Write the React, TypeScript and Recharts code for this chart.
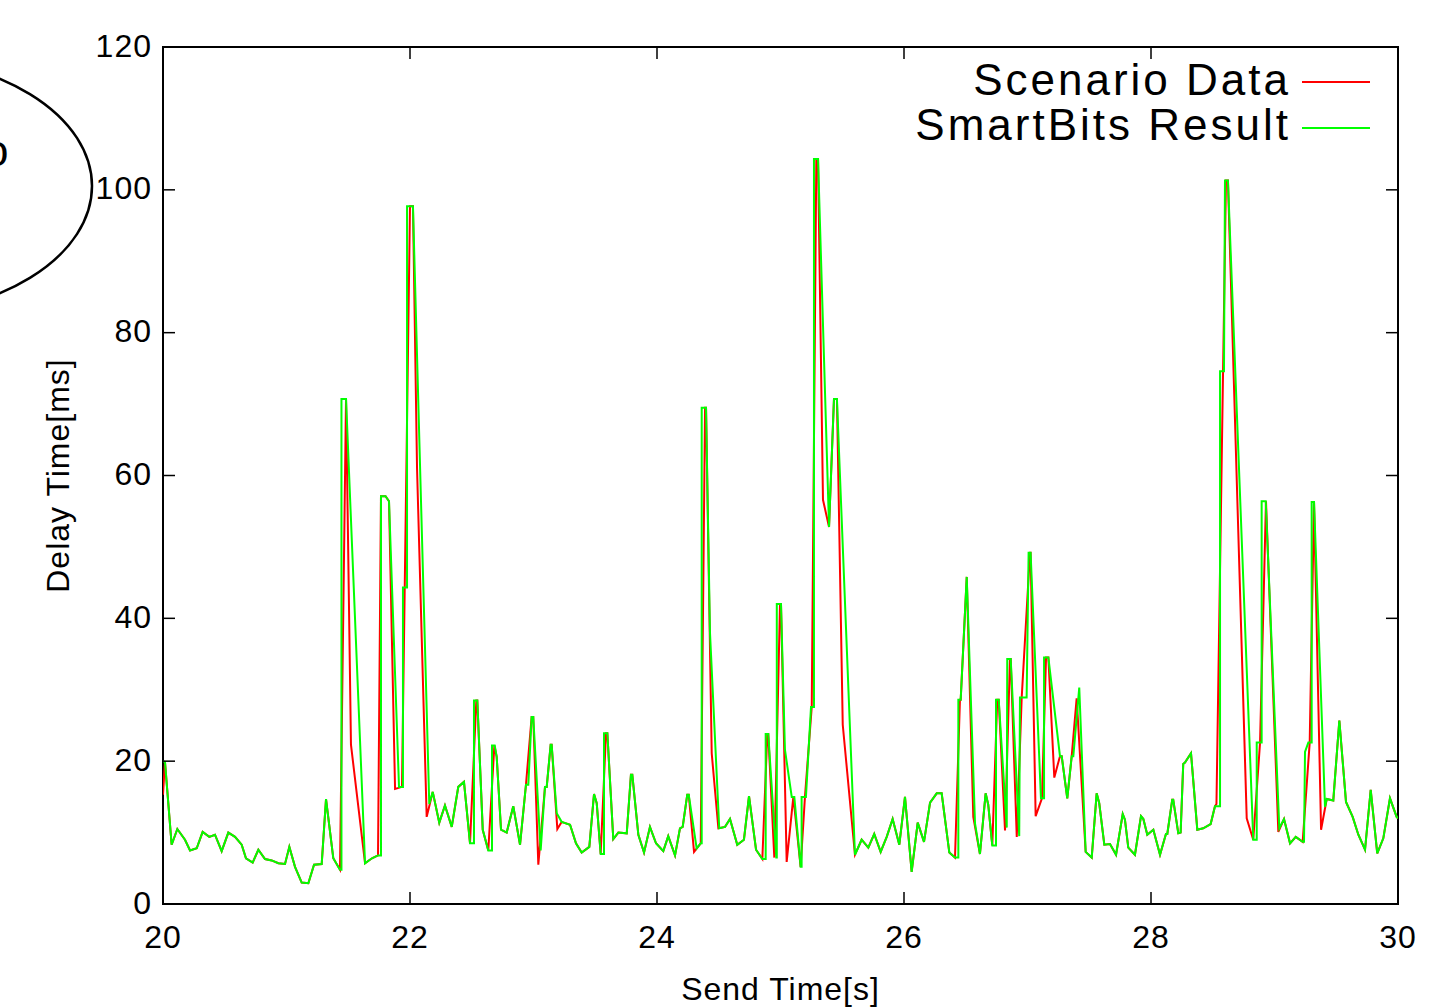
import { LineChart, Line, XAxis, YAxis, Legend, ReferenceArea } from "recharts";

// ─── data ────────────────────────────────────────────────────────────────────
// [send time (s), delay (ms)]

const scenarioData: [number, number][] = [
  [20.0, 15.3], [20.016, 19.9], [20.07, 8.3], [20.116, 10.5], [20.178, 9.0], [20.219, 7.5],
  [20.273, 7.8], [20.321, 10.1], [20.375, 9.4], [20.421, 9.7], [20.475, 7.4], [20.529, 10.0],
  [20.583, 9.4], [20.637, 8.3], [20.672, 6.4], [20.726, 5.8], [20.772, 7.6], [20.826, 6.3],
  [20.88, 6.1], [20.934, 5.7], [20.988, 5.6], [21.023, 8.0], [21.069, 5.2], [21.123, 3.0],
  [21.177, 2.9], [21.223, 5.5], [21.285, 5.6], [21.32, 14.7], [21.379, 6.4], [21.433, 4.8],
  [21.482, 70.7], [21.522, 22.3], [21.636, 5.7], [21.692, 6.4], [21.741, 6.8], [21.765, 57.1],
  [21.802, 57.1], [21.83, 56.4], [21.879, 16.1], [21.935, 16.4], [22.0, 97.7], [22.024, 97.7],
  [22.057, 61.0], [22.135, 12.2], [22.156, 13.7], [22.184, 15.7], [22.237, 11.4], [22.283, 13.8],
  [22.338, 10.8], [22.391, 16.4], [22.437, 17.1], [22.486, 8.5], [22.537, 28.5], [22.545, 28.5],
  [22.589, 10.4], [22.634, 7.5], [22.683, 22.2], [22.702, 20.6], [22.737, 10.4], [22.783, 10.0],
  [22.836, 13.7], [22.891, 8.3], [22.939, 16.7], [22.985, 26.2], [22.998, 26.2], [23.039, 5.5],
  [23.093, 16.4], [23.107, 16.4], [23.139, 22.3], [23.147, 22.3], [23.193, 10.5], [23.228, 11.5],
  [23.296, 11.1], [23.344, 8.5], [23.39, 7.2], [23.452, 8.0], [23.49, 15.4], [23.512, 14.1],
  [23.544, 7.0], [23.587, 23.9], [23.598, 23.9], [23.646, 9.1], [23.687, 10.0], [23.755, 9.9],
  [23.789, 18.1], [23.8, 18.1], [23.849, 9.7], [23.895, 7.2], [23.943, 10.8], [23.992, 8.5],
  [24.051, 7.4], [24.091, 9.5], [24.146, 6.8], [24.186, 10.6], [24.208, 10.8], [24.245, 15.3],
  [24.257, 15.3], [24.3, 7.3], [24.354, 8.5], [24.389, 69.5], [24.397, 69.5], [24.443, 21.1],
  [24.497, 10.6], [24.551, 10.8], [24.591, 11.9], [24.65, 8.3], [24.704, 9.0], [24.745, 15.1],
  [24.802, 7.6], [24.853, 6.3], [24.893, 23.8], [24.901, 23.8], [24.95, 6.5], [24.996, 42.0],
  [25.004, 42.0], [25.05, 5.9], [25.104, 15.0], [25.163, 5.2], [25.198, 15.0], [25.253, 27.6],
  [25.29, 104.3], [25.304, 104.3], [25.344, 56.6], [25.393, 52.8], [25.433, 70.7], [25.457, 70.7],
  [25.504, 25.1], [25.603, 6.9], [25.657, 9.0], [25.711, 7.9], [25.759, 9.8], [25.811, 7.3],
  [25.86, 9.4], [25.908, 11.9], [25.962, 8.3], [26.008, 15.0], [26.062, 4.5], [26.111, 11.4],
  [26.162, 8.7], [26.211, 14.2], [26.265, 15.5], [26.305, 15.5], [26.367, 7.2], [26.413, 6.5],
  [26.453, 28.6], [26.459, 28.6], [26.508, 45.8], [26.561, 12.2], [26.615, 7.0], [26.661, 15.5],
  [26.682, 13.9], [26.715, 8.2], [26.755, 28.6], [26.767, 28.6], [26.818, 10.3], [26.858, 34.3],
  [26.864, 34.3], [26.913, 9.4], [26.953, 28.9], [27.02, 49.2], [27.025, 49.2], [27.066, 12.3],
  [27.117, 14.8], [27.15, 34.5], [27.169, 34.5], [27.217, 17.7], [27.263, 20.7], [27.277, 20.7],
  [27.322, 14.8], [27.358, 20.7], [27.398, 28.8], [27.471, 7.3], [27.52, 6.5], [27.56, 15.5],
  [27.581, 14.1], [27.622, 8.3], [27.668, 8.4], [27.717, 6.9], [27.771, 12.6], [27.789, 11.8],
  [27.816, 7.9], [27.87, 6.9], [27.919, 12.3], [27.938, 11.9], [27.97, 9.7], [28.019, 10.4],
  [28.073, 6.9], [28.121, 9.8], [28.132, 9.8], [28.172, 14.6], [28.18, 14.6], [28.221, 9.9],
  [28.24, 10.0], [28.261, 19.6], [28.275, 19.8], [28.324, 21.1], [28.375, 10.4], [28.423, 10.6],
  [28.483, 11.2], [28.518, 13.7], [28.53, 14.0], [28.607, 101.3], [28.623, 101.3], [28.775, 12.0],
  [28.828, 9.0], [28.883, 22.6], [28.931, 56.4], [29.031, 10.1], [29.077, 11.9], [29.126, 8.5],
  [29.172, 9.4], [29.228, 8.7], [29.285, 22.6], [29.32, 56.3], [29.377, 10.4], [29.423, 14.7],
  [29.476, 14.5], [29.525, 25.7], [29.579, 14.3], [29.633, 12.2], [29.679, 9.7], [29.733, 7.6],
  [29.779, 16.0], [29.832, 7.1], [29.881, 9.2], [29.935, 14.8], [29.989, 12.2], [30.0, 12.0],
];

const smartbitsData: [number, number][] = [
  [20.0, 20.0], [20.016, 19.9], [20.07, 8.3], [20.116, 10.5], [20.178, 9.0], [20.219, 7.5],
  [20.273, 7.8], [20.321, 10.1], [20.375, 9.4], [20.421, 9.7], [20.475, 7.4], [20.529, 10.0],
  [20.583, 9.4], [20.637, 8.3], [20.672, 6.4], [20.726, 5.8], [20.772, 7.6], [20.826, 6.3],
  [20.88, 6.1], [20.934, 5.7], [20.988, 5.6], [21.023, 8.0], [21.069, 5.2], [21.123, 3.0],
  [21.177, 2.9], [21.223, 5.5], [21.285, 5.6], [21.32, 14.7], [21.379, 6.4], [21.433, 4.8],
  [21.445, 4.8], [21.445, 70.7], [21.482, 70.7], [21.636, 5.7], [21.692, 6.4], [21.741, 6.8],
  [21.765, 6.8], [21.765, 57.1], [21.802, 57.1], [21.83, 56.4], [21.911, 16.4], [21.943, 16.4],
  [21.943, 44.3], [21.976, 44.3], [21.976, 97.7], [22.024, 97.7], [22.156, 14.0], [22.184, 15.7],
  [22.237, 11.4], [22.283, 13.8], [22.338, 10.8], [22.391, 16.4], [22.437, 17.1], [22.486, 8.5],
  [22.518, 8.5], [22.518, 28.5], [22.545, 28.5], [22.589, 10.4], [22.634, 7.5], [22.664, 7.5],
  [22.664, 22.2], [22.686, 22.2], [22.702, 20.6], [22.737, 10.4], [22.783, 10.0], [22.836, 13.7],
  [22.891, 8.3], [22.939, 16.7], [22.958, 16.7], [22.985, 26.2], [22.998, 26.2], [23.058, 7.5],
  [23.093, 16.4], [23.107, 16.4], [23.139, 22.3], [23.147, 22.3], [23.188, 12.7], [23.228, 11.5],
  [23.296, 11.1], [23.344, 8.5], [23.39, 7.2], [23.452, 8.0], [23.49, 15.4], [23.512, 14.1],
  [23.544, 7.0], [23.571, 7.0], [23.571, 23.9], [23.598, 23.9], [23.646, 9.1], [23.687, 10.0],
  [23.755, 9.9], [23.789, 18.1], [23.8, 18.1], [23.849, 9.7], [23.895, 7.2], [23.943, 10.8],
  [23.992, 8.5], [24.051, 7.4], [24.091, 9.5], [24.146, 6.8], [24.186, 10.6], [24.208, 10.8],
  [24.245, 15.3], [24.257, 15.3], [24.321, 7.8], [24.354, 8.5], [24.362, 8.5], [24.362, 69.5],
  [24.397, 69.5], [24.429, 38.0], [24.504, 10.6], [24.551, 10.8], [24.591, 11.9], [24.65, 8.3],
  [24.704, 9.0], [24.745, 15.1], [24.802, 7.6], [24.853, 6.3], [24.88, 6.3], [24.88, 23.8],
  [24.901, 23.8], [24.966, 6.5], [24.97, 6.5], [24.97, 42.0], [25.004, 42.0], [25.036, 21.6],
  [25.091, 15.0], [25.112, 15.0], [25.163, 5.2], [25.171, 5.2], [25.171, 15.0], [25.206, 15.0],
  [25.247, 27.6], [25.271, 27.6], [25.271, 104.3], [25.304, 104.3], [25.393, 52.8], [25.433, 70.7],
  [25.457, 70.7], [25.603, 6.9], [25.657, 9.0], [25.711, 7.9], [25.759, 9.8], [25.811, 7.3],
  [25.86, 9.4], [25.908, 11.9], [25.962, 8.3], [26.008, 15.0], [26.062, 4.5], [26.111, 11.4],
  [26.162, 8.7], [26.211, 14.2], [26.265, 15.5], [26.305, 15.5], [26.367, 7.2], [26.413, 6.5],
  [26.44, 6.5], [26.44, 28.6], [26.459, 28.6], [26.508, 45.8], [26.575, 11.3], [26.615, 7.0],
  [26.661, 15.5], [26.682, 13.9], [26.715, 8.2], [26.745, 8.2], [26.745, 28.6], [26.767, 28.6],
  [26.832, 10.7], [26.836, 34.3], [26.864, 34.3], [26.933, 9.5], [26.939, 28.9], [26.993, 28.9],
  [27.009, 49.2], [27.025, 49.2], [27.109, 14.8], [27.134, 14.8], [27.134, 34.5], [27.169, 34.5],
  [27.263, 20.7], [27.277, 20.7], [27.322, 14.8], [27.358, 20.7], [27.371, 20.7], [27.419, 30.3],
  [27.471, 7.3], [27.52, 6.5], [27.56, 15.5], [27.581, 14.1], [27.622, 8.3], [27.668, 8.4],
  [27.717, 6.9], [27.771, 12.6], [27.789, 11.8], [27.816, 7.9], [27.87, 6.9], [27.919, 12.3],
  [27.938, 11.9], [27.97, 9.7], [28.019, 10.4], [28.073, 6.9], [28.121, 9.8], [28.132, 9.8],
  [28.172, 14.6], [28.18, 14.6], [28.221, 9.9], [28.24, 10.0], [28.261, 19.6], [28.275, 19.8],
  [28.324, 21.1], [28.375, 10.4], [28.423, 10.6], [28.483, 11.2], [28.518, 13.7], [28.559, 13.7],
  [28.559, 74.6], [28.591, 74.6], [28.599, 101.3], [28.623, 101.3], [28.828, 9.0], [28.856, 9.0],
  [28.856, 22.6], [28.896, 22.6], [28.896, 56.4], [28.929, 56.4], [29.039, 10.6], [29.077, 11.9],
  [29.126, 8.5], [29.172, 9.4], [29.228, 8.7], [29.239, 8.7], [29.247, 21.3], [29.274, 22.6],
  [29.301, 22.6], [29.301, 56.3], [29.32, 56.3], [29.409, 13.6], [29.423, 14.7], [29.476, 14.5],
  [29.525, 25.7], [29.579, 14.3], [29.633, 12.2], [29.679, 9.7], [29.733, 7.6], [29.779, 16.0],
  [29.832, 7.1], [29.881, 9.2], [29.935, 14.8], [29.989, 12.2], [30.0, 12.0],
];

const xTicks = [20, 22, 24, 26, 28, 30];
const yTicks = [0, 20, 40, 60, 80, 100, 120];
const seriesNames = ["Scenario Data", "SmartBits Result"];
const seriesColors = ["#ff0000", "#00ff00"];

// ─── layout ──────────────────────────────────────────────────────────────────

const W = 1438;
const H = 1008;
const PLOT = { left: 163, right: 1398, top: 47, bottom: 904 };
const TICK = 12;
const FONT = "'Liberation Sans', Arial, Helvetica, sans-serif";

const toPoints = (rows: [number, number][]) => rows.map(([t, v]) => ({ t, v }));

// gnuplot style: ticks point inward and are mirrored on the opposite side
function XTick({ x, payload }: any) {
  return (
    <g>
      <line x1={x} x2={x} y1={PLOT.bottom} y2={PLOT.bottom - TICK} stroke="#000" strokeWidth={1.5} />
      <line x1={x} x2={x} y1={PLOT.top} y2={PLOT.top + TICK} stroke="#000" strokeWidth={1.5} />
      <text x={x} y={948} textAnchor="middle" fontSize={32} letterSpacing={1} fill="#000">
        {payload.value}
      </text>
    </g>
  );
}

function YTick({ y, payload }: any) {
  return (
    <g>
      <line x1={PLOT.left} x2={PLOT.left + TICK} y1={y} y2={y} stroke="#000" strokeWidth={1.5} />
      <line x1={PLOT.right} x2={PLOT.right - TICK} y1={y} y2={y} stroke="#000" strokeWidth={1.5} />
      <text x={152} y={y} dy="0.3em" textAnchor="end" fontSize={32} letterSpacing={1} fill="#000">
        {payload.value}
      </text>
    </g>
  );
}

function LegendBox() {
  return (
    <svg width={W} height={160} style={{ display: "block", fontFamily: FONT }}>
      {seriesNames.map((name, i) => (
        <g key={name}>
          <text x={1291} y={95 + i * 45} textAnchor="end" fontSize={44} letterSpacing={3} fill="#000">
            {name}
          </text>
          <line
            x1={1302}
            x2={1370}
            y1={82 + i * 46}
            y2={82 + i * 46}
            stroke={seriesColors[i]}
            strokeWidth={2}
          />
        </g>
      ))}
    </svg>
  );
}

export default function App() {
  return (
    <div style={{ position: "absolute", left: 0, top: 0, width: W, height: H, background: "#fff", fontFamily: FONT }}>
      {/* cropped ellipse from the neighbouring figure */}
      <svg width={163} height={330} style={{ position: "absolute", left: 0, top: 0 }}>
        <ellipse cx={-120} cy={186} rx={212} ry={130} fill="none" stroke="#000" strokeWidth={2.5} />
        <text x={-16} y={166} fontSize={44} fill="#000">
          o
        </text>
      </svg>
      <LineChart width={W} height={H} margin={{ top: PLOT.top, right: W - PLOT.right, bottom: 0, left: 0 }}>
        <XAxis
          type="number"
          dataKey="t"
          domain={[20, 30]}
          ticks={xTicks}
          interval={0}
          allowDataOverflow
          height={H - PLOT.bottom}
          axisLine={false}
          tickLine={false}
          tick={<XTick />}
          label={{
            value: "Send Time[s]",
            position: "insideBottom",
            offset: 8,
            style: { fontSize: 32, fill: "#000", fontFamily: FONT, letterSpacing: 1 },
          }}
        />
        <YAxis
          type="number"
          domain={[0, 120]}
          ticks={yTicks}
          interval={0}
          allowDataOverflow
          width={PLOT.left}
          axisLine={false}
          tickLine={false}
          tick={<YTick />}
          label={{
            value: "Delay Time[ms]",
            angle: -90,
            position: "insideLeft",
            offset: 58,
            style: { fontSize: 32, fill: "#000", textAnchor: "middle", fontFamily: FONT, letterSpacing: 1 },
          }}
        />
        <Line
          data={toPoints(scenarioData)}
          dataKey="v"
          name={seriesNames[0]}
          type="linear"
          stroke={seriesColors[0]}
          strokeWidth={2}
          dot={false}
          isAnimationActive={false}
        />
        <Line
          data={toPoints(smartbitsData)}
          dataKey="v"
          name={seriesNames[1]}
          type="linear"
          stroke={seriesColors[1]}
          strokeWidth={2}
          dot={false}
          isAnimationActive={false}
        />
        <ReferenceArea
          x1={20}
          x2={30}
          y1={0}
          y2={120}
          fill="none"
          stroke="#000"
          strokeWidth={2}
          ifOverflow="visible"
        />
        <Legend
          layout="vertical"
          align="center"
          verticalAlign="middle"
          content={<LegendBox />}
          wrapperStyle={{ position: "absolute", left: 0, top: 0, width: W, height: 160 }}
        />
      </LineChart>
    </div>
  );
}
